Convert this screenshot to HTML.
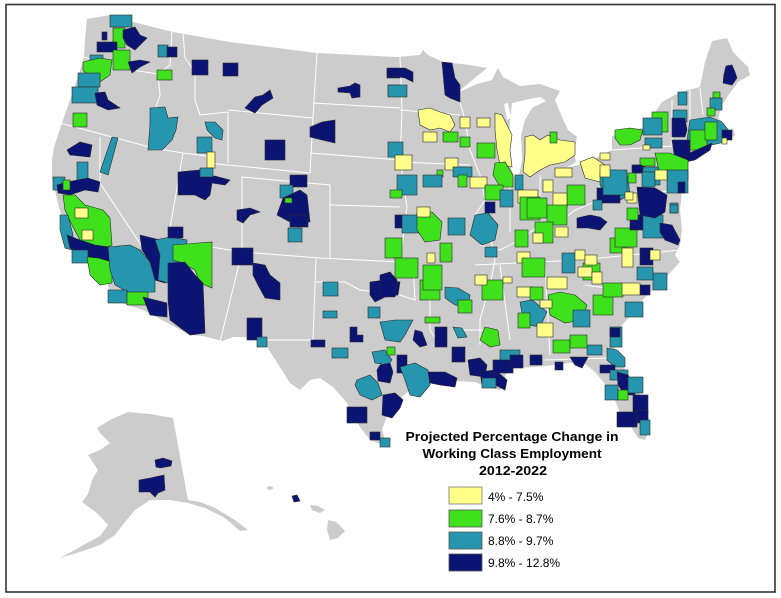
<!DOCTYPE html>
<html><head><meta charset="utf-8"><style>
html,body{margin:0;padding:0;background:#fff;}
svg{display:block;}
.y{fill:#ffff8a;stroke:#2a2a2a;stroke-width:.6}
.g{fill:#3ee11b;stroke:#2a2a2a;stroke-width:.6}
.t{fill:#2596ad;stroke:#2a2a2a;stroke-width:.6}
.n{fill:#0b1473;stroke:#2a2a2a;stroke-width:.6}
.s{fill:none;stroke:#fff;stroke-width:1}
</style></head><body>
<svg width="781" height="598" viewBox="0 0 781 598" xmlns="http://www.w3.org/2000/svg">
<rect x="0" y="0" width="781" height="598" fill="#fff"/>
<rect x="6" y="4.5" width="769" height="587.5" fill="#fff" stroke="#333" stroke-width="1.6"/>
<!-- contiguous US -->
<path fill="#cccccc" d="M87,19 L110,15 L133,22 L173,32 L230,42 L317,53 L397,57 L420,55 L423,50 L428,55 L443,62 L470,65 L487,68 L470,82 L457,93 L477,84 L492,80 L498,68 L503,77 L520,86 L540,84 L560,91 L555,100 L562,117 L568,130 L577,137 L574,152 L576,162 L566,168 L585,163 L600,156 L612,150 L612,136 L630,131 L645,127 L652,117 L662,102 L680,92 L700,87 L705,62 L712,41 L727,38 L733,52 L748,67 L750,75 L738,82 L730,93 L722,105 L718,118 L725,125 L722,130 L730,131 L733,128 L735,135 L725,141 L712,142 L700,146 L690,151 L713,142 L708,150 L690,158 L688,165 L684,185 L678,180 L682,192 L680,210 L682,230 L680,245 L675,255 L680,262 L668,275 L660,285 L650,292 L640,303 L633,313 L622,325 L615,337 L615,350 L622,365 L632,380 L640,395 L648,413 L650,428 L645,440 L638,438 L630,425 L620,413 L615,400 L608,388 L600,378 L595,372 L585,364 L570,363 L555,365 L535,367 L515,368 L505,375 L507,385 L500,390 L490,388 L475,382 L455,381 L440,380 L425,383 L410,390 L398,400 L388,413 L382,430 L387,445 L378,443 L370,440 L360,427 L347,403 L333,387 L320,378 L310,380 L300,390 L290,383 L280,367 L267,347 L253,337 L233,337 L222,341 L203,336 L190,335 L143,310 L127,305 L112,300 L108,285 L100,270 L88,262 L75,255 L70,245 L66,232 L62,218 L57,200 L55,190 L52,178 L52,160 L54,147 L58,135 L62,123 L70,100 L78,77 L84,57 L85,40 Z"/>
<!-- Lake Michigan -->
<path fill="#fff" d="M512,103 L525,100 L540,97 L546,101 L532,108 L525,120 L521,135 L522,160 L519,176 L514,177 L510,165 L509,140 L510,120 Z"/>
<path fill="#fff" d="M504,104 L508,103 L511,118 L507,120 Z"/>
<!-- Alaska -->
<path fill="#cccccc" d="M128,412 L150,414 L173,418 L188,500 L200,502 L215,508 L235,520 L248,530 L240,531 L225,518 L205,508 L188,503 L170,500 L150,500 L135,510 L125,522 L115,535 L100,545 L80,552 L60,558 L78,548 L100,536 L108,525 L98,514 L82,502 L88,494 L92,480 L98,470 L88,455 L100,450 L110,443 L100,433 L97,428 L110,420 Z"/>
<!-- Hawaii -->
<ellipse cx="270" cy="488" rx="3" ry="2" fill="#cccccc"/>
<polygon fill="#cccccc" points="310,505 318,506 325,510 320,513 312,510"/>
<polygon fill="#cccccc" points="328,520 336,522 345,531 338,538 330,540 327,530"/>
<polygon class="n" points="292,496 297,495 300,501 294,502"/>
<!-- state lines -->
<g class="s">
<polyline points="84,57 100,62 120,68 158,74"/>
<polyline points="172,32 170,65 158,74 160,95 152,120 153,150"/>
<polyline points="183,33 185,58 195,72 195,100 200,115 228,112"/>
<polyline points="228,110 313,118"/>
<polyline points="228,112 228,163"/>
<polyline points="317,53 313,118 310,173"/>
<polyline points="313,103 400,108"/>
<polyline points="310,153 400,160"/>
<polyline points="207,163 310,173"/>
<polyline points="60,123 153,148 183,153 207,156 207,163"/>
<polyline points="183,153 168,240"/>
<polyline points="100,137 100,183 143,248"/>
<polyline points="143,250 168,240 242,252"/>
<polyline points="242,177 242,252 220,342"/>
<polyline points="242,177 330,185 330,258"/>
<polyline points="242,252 320,258 400,262"/>
<polyline points="330,205 400,207"/>
<polyline points="316,258 313,340 253,340"/>
<polyline points="316,282 345,282 360,290 400,295 415,300 413,262"/>
<polyline points="400,57 402,110 400,160 407,207 400,262"/>
<polyline points="458,95 465,120 470,150 480,175 485,200 475,215 490,235 495,260 490,285 480,320 480,345"/>
<polyline points="400,110 460,115"/>
<polyline points="400,162 470,165"/>
<polyline points="510,170 510,232"/>
<polyline points="540,175 540,215"/>
<polyline points="480,245 500,250 520,240 540,225 560,222 575,210 600,200"/>
<polyline points="475,265 580,260 680,250"/>
<polyline points="500,265 510,340"/>
<polyline points="545,265 550,355"/>
<polyline points="545,360 610,358"/>
<polyline points="585,285 620,290 650,292"/>
<polyline points="600,155 600,200 675,190"/>
<polyline points="612,150 672,146"/>
<polyline points="672,146 672,100"/>
<polyline points="690,90 690,125"/>
<polyline points="700,88 703,115"/>
<polyline points="430,265 430,330 440,345"/>
<polyline points="455,330 500,330"/>
</g>
<!-- West -->
<rect class="t" x="110" y="15" width="22" height="12"/>
<rect class="g" x="113" y="28" width="12" height="20"/>
<polygon class="n" points="123,30 135,27 140,35 147,38 140,45 135,50 127,45 123,38"/>
<rect class="n" x="97" y="42" width="20" height="10"/>
<rect class="n" x="102" y="32" width="5" height="8"/>
<rect class="g" x="113" y="50" width="17" height="20"/>
<polygon class="n" points="128,62 140,60 150,62 140,67 132,73"/>
<rect class="t" x="90" y="55" width="13" height="8"/>
<polygon class="g" points="83,62 100,58 112,60 110,75 100,82 90,78 83,70"/>
<rect class="t" x="78" y="73" width="22" height="14"/>
<rect class="t" x="72" y="87" width="26" height="16"/>
<polygon class="n" points="95,93 105,92 108,100 120,108 108,110 97,105"/>
<rect class="t" x="158" y="45" width="10" height="12"/>
<rect class="n" x="167" y="47" width="10" height="10"/>
<rect class="g" x="157" y="70" width="15" height="10"/>
<rect class="g" x="73" y="113" width="14" height="14"/>
<polygon class="n" points="67,150 80,142 92,145 90,157 70,155"/>
<polygon class="t" points="112,137 118,138 108,175 100,172"/>
<polygon class="t" points="150,108 165,107 168,118 178,117 176,130 172,140 162,150 148,150 150,125"/>
<rect class="n" x="192" y="60" width="16" height="15"/>
<rect class="n" x="223" y="63" width="15" height="13"/>
<polygon class="n" points="245,108 255,97 263,95 270,90 273,98 262,105 255,113"/>
<polygon class="t" points="205,122 215,122 223,130 222,140 215,138 207,130"/>
<rect class="t" x="197" y="137" width="15" height="16"/>
<rect class="y" x="207" y="152" width="8" height="16"/>
<rect class="n" x="265" y="140" width="20" height="20"/>
<polygon class="n" points="310,127 322,122 335,120 335,143 322,140 310,137"/>
<polygon class="n" points="338,88 350,86 355,83 360,85 360,97 352,98 350,93 338,92"/>
<rect class="n" x="387" y="70" width="13" height="8"/>
<rect class="t" x="388" y="85" width="12" height="10"/>
<polygon class="n" points="178,172 200,170 205,177 215,176 230,180 225,185 212,183 210,195 205,200 195,195 178,195"/>
<rect class="t" x="200" y="168" width="13" height="9"/>
<rect class="t" x="53" y="177" width="12" height="13"/>
<rect class="t" x="77" y="162" width="11" height="20"/>
<polygon class="n" points="57,185 67,182 88,178 100,182 98,192 85,190 70,195 58,193"/>
<rect class="g" x="63" y="180" width="7" height="10"/>
<polygon class="g" points="63,195 75,195 85,205 103,210 110,218 112,245 100,250 90,245 80,240 72,225 65,210"/>
<rect class="y" x="75" y="208" width="13" height="10"/>
<rect class="y" x="82" y="230" width="11" height="10"/>
<polygon class="t" points="60,215 68,215 73,235 72,250 65,248 60,230"/>
<polygon class="n" points="67,235 80,240 95,245 117,248 117,262 100,262 85,255 70,248"/>
<rect class="t" x="72" y="250" width="16" height="13"/>
<polygon class="g" points="87,257 98,258 112,262 112,283 100,285 90,275"/>
<polygon class="t" points="108,247 130,245 140,250 155,268 155,292 130,293 115,285 110,270"/>
<rect class="t" x="108" y="290" width="19" height="13"/>
<rect class="g" x="127" y="292" width="21" height="13"/>
<polygon class="n" points="140,235 160,240 167,248 165,283 155,280 150,262 142,250"/>
<polygon class="t" points="155,240 170,237 187,240 187,260 175,270 168,283 158,280 160,255"/>
<rect class="n" x="168" y="227" width="15" height="11"/>
<polygon class="g" points="173,245 212,242 212,288 200,283 195,270 180,262 173,260"/>
<polygon class="n" points="168,263 185,262 195,275 203,283 205,333 190,335 170,320 168,300"/>
<polygon class="n" points="143,297 155,300 167,303 167,317 150,315"/>
<rect class="n" x="232" y="248" width="21" height="17"/>
<polygon class="n" points="253,263 265,265 270,275 280,283 280,300 265,298 258,285 253,275"/>
<polygon class="n" points="237,210 250,208 260,212 250,215 243,223 237,220"/>
<rect class="n" x="290" y="175" width="17" height="12"/>
<rect class="t" x="280" y="185" width="13" height="13"/>
<polygon class="n" points="283,198 300,190 307,195 310,222 290,222 277,215"/>
<rect class="g" x="285" y="198" width="7" height="5"/>
<rect class="n" x="290" y="215" width="18" height="12"/>
<rect class="t" x="288" y="228" width="14" height="14"/>
<rect class="n" x="247" y="318" width="15" height="22"/>
<rect class="t" x="257" y="337" width="10" height="10"/>
<!-- TX / OK / South -->
<rect class="t" x="323" y="282" width="15" height="14"/>
<polygon class="n" points="370,282 385,280 400,282 398,295 385,297 375,302 370,295"/>
<rect class="t" x="323" y="311" width="14" height="7"/>
<polygon class="n" points="350,327 357,327 357,335 363,335 363,342 350,342"/>
<rect class="n" x="311" y="340" width="14" height="7"/>
<rect class="t" x="332" y="348" width="16" height="10"/>
<rect class="t" x="368" y="307" width="12" height="11"/>
<polygon class="t" points="380,322 395,320 413,320 405,335 400,342 385,340"/>
<polygon class="t" points="372,352 385,350 392,360 388,365 375,363"/>
<rect class="g" x="387" y="347" width="8" height="8"/>
<polygon class="n" points="380,365 390,363 393,372 390,383 378,381 377,370"/>
<polygon class="t" points="357,380 370,375 378,383 382,395 372,400 360,395 355,385"/>
<rect class="n" x="397" y="355" width="10" height="18"/>
<polygon class="t" points="400,367 415,363 428,370 430,385 420,397 410,395 405,380"/>
<polygon class="n" points="428,372 445,372 457,378 455,387 440,385 430,383"/>
<polygon class="n" points="383,395 395,393 403,400 400,408 392,418 382,415"/>
<rect class="n" x="347" y="407" width="20" height="16"/>
<rect class="n" x="370" y="432" width="10" height="8"/>
<rect class="t" x="380" y="438" width="10" height="9"/>
<polygon class="n" points="415,330 422,332 427,345 420,347 413,340"/>
<rect class="n" x="435" y="327" width="12" height="20"/>
<polygon class="t" points="453,327 462,328 467,337 458,338"/>
<rect class="n" x="452" y="347" width="13" height="15"/>
<polygon class="n" points="468,360 480,358 487,365 485,377 470,375"/>
<polygon class="n" points="480,372 495,370 507,380 505,390 495,385 482,385"/>
<rect class="t" x="482" y="378" width="14" height="10"/>
<rect class="t" x="500" y="350" width="20" height="13"/>
<rect class="n" x="493" y="360" width="20" height="13"/>
<rect class="n" x="510" y="355" width="13" height="13"/>
<rect class="n" x="530" y="355" width="12" height="10"/>
<rect class="n" x="555" y="362" width="8" height="8"/>
<polygon class="n" points="570,357 588,357 582,368 575,365"/>
<rect class="t" x="587" y="345" width="15" height="10"/>
<polygon class="t" points="607,348 617,350 625,358 625,367 615,367 607,360"/>
<rect class="n" x="600" y="365" width="15" height="8"/>
<rect class="t" x="610" y="370" width="18" height="10"/>
<polygon class="n" points="617,372 628,375 635,390 635,395 625,395 618,385"/>
<rect class="t" x="605" y="385" width="13" height="15"/>
<rect class="g" x="618" y="390" width="10" height="10"/>
<rect class="t" x="628" y="377" width="15" height="16"/>
<rect class="n" x="633" y="395" width="15" height="18"/>
<rect class="n" x="617" y="412" width="20" height="15"/>
<rect class="n" x="637" y="410" width="11" height="13"/>
<rect class="t" x="640" y="420" width="10" height="15"/>
<rect class="t" x="610" y="327" width="12" height="20"/>
<rect class="n" x="610" y="328" width="10" height="9"/>
<rect class="t" x="625" y="302" width="18" height="15"/>
<rect class="n" x="640" y="285" width="10" height="10"/>
<polygon class="g" points="485,327 498,330 500,345 490,347 480,340"/>
<rect class="g" x="425" y="317" width="15" height="6"/>
<polygon class="t" points="445,287 458,288 470,295 468,307 455,305 445,298"/>
<rect class="g" x="458" y="300" width="14" height="13"/>
<rect class="g" x="420" y="280" width="20" height="20"/>
<rect class="g" x="482" y="280" width="21" height="20"/>
<rect class="y" x="475" y="275" width="12" height="10"/>
<rect class="y" x="503" y="277" width="9" height="6"/>
<rect class="y" x="517" y="287" width="16" height="10"/>
<rect class="g" x="530" y="287" width="13" height="13"/>
<polygon class="t" points="520,302 532,300 547,312 540,327 528,325 522,313"/>
<rect class="g" x="518" y="313" width="12" height="15"/>
<rect class="y" x="537" y="323" width="16" height="14"/>
<polygon class="g" points="548,295 560,292 575,295 587,305 582,320 565,323 550,315"/>
<rect class="y" x="547" y="277" width="20" height="12"/>
<rect class="y" x="540" y="300" width="12" height="8"/>
<rect class="g" x="553" y="340" width="17" height="13"/>
<rect class="g" x="570" y="335" width="17" height="13"/>
<rect class="t" x="573" y="310" width="17" height="17"/>
<rect class="g" x="593" y="295" width="20" height="20"/>
<rect class="g" x="603" y="283" width="20" height="14"/>
<rect class="y" x="622" y="283" width="18" height="12"/>
<!-- Midwest -->
<polygon class="n" points="387,68 405,68 413,72 413,82 405,78 387,75"/>
<rect class="t" x="388" y="85" width="19" height="12"/>
<polygon class="n" points="442,62 452,63 455,78 460,85 460,102 450,98 445,95"/>
<polygon class="y" points="418,110 430,108 440,112 450,115 455,125 450,132 440,128 430,130 420,125"/>
<rect class="y" x="423" y="132" width="14" height="10"/>
<rect class="y" x="460" y="117" width="10" height="11"/>
<rect class="y" x="477" y="118" width="13" height="9"/>
<rect class="g" x="443" y="132" width="15" height="10"/>
<rect class="g" x="460" y="137" width="10" height="10"/>
<polygon class="y" points="495,113 502,115 507,125 512,135 510,150 512,167 500,165 497,150 495,130"/>
<rect class="t" x="388" y="142" width="15" height="15"/>
<rect class="y" x="395" y="155" width="17" height="15"/>
<rect class="g" x="477" y="143" width="18" height="15"/>
<rect class="y" x="445" y="158" width="13" height="12"/>
<rect class="g" x="437" y="170" width="6" height="7"/>
<rect class="t" x="453" y="167" width="19" height="10"/>
<rect class="g" x="458" y="175" width="9" height="12"/>
<rect class="t" x="397" y="175" width="20" height="20"/>
<rect class="t" x="423" y="175" width="19" height="12"/>
<rect class="g" x="390" y="190" width="12" height="8"/>
<rect class="y" x="470" y="177" width="17" height="11"/>
<polygon class="g" points="495,163 505,162 513,175 513,187 500,187 493,175"/>
<rect class="g" x="485" y="185" width="18" height="15"/>
<rect class="t" x="515" y="175" width="8" height="15"/>
<polygon class="y" points="525,137 533,135 540,140 548,135 560,140 575,142 575,155 565,162 550,165 540,170 530,177 523,172 525,155"/>
<rect class="g" x="550" y="132" width="7" height="11"/>
<rect class="y" x="543" y="180" width="10" height="12"/>
<rect class="y" x="555" y="168" width="17" height="9"/>
<polygon class="y" points="580,162 593,157 605,165 610,172 600,182 585,178"/>
<polygon class="t" points="600,172 615,170 628,177 630,195 620,200 605,195 600,185"/>
<rect class="n" x="597" y="188" width="23" height="15"/>
<rect class="n" x="633" y="165" width="12" height="8"/>
<rect class="t" x="643" y="167" width="17" height="18"/>
<rect class="g" x="567" y="185" width="18" height="20"/>
<rect class="y" x="518" y="190" width="20" height="13"/>
<rect class="y" x="553" y="193" width="14" height="14"/>
<rect class="g" x="520" y="197" width="20" height="23"/>
<rect class="t" x="500" y="190" width="13" height="17"/>
<rect class="n" x="485" y="202" width="10" height="11"/>
<rect class="g" x="527" y="198" width="20" height="20"/>
<rect class="g" x="547" y="205" width="20" height="20"/>
<polygon class="t" points="475,215 488,213 498,225 495,240 482,245 470,235"/>
<rect class="t" x="448" y="218" width="17" height="17"/>
<rect class="n" x="395" y="215" width="13" height="13"/>
<rect class="t" x="402" y="215" width="21" height="18"/>
<polygon class="g" points="417,212 432,212 442,222 440,240 425,242 417,230"/>
<rect class="y" x="417" y="207" width="13" height="10"/>
<rect class="g" x="385" y="238" width="17" height="20"/>
<rect class="g" x="395" y="258" width="23" height="20"/>
<rect class="g" x="423" y="265" width="19" height="25"/>
<rect class="y" x="427" y="253" width="8" height="10"/>
<rect class="g" x="440" y="243" width="12" height="19"/>
<polygon class="n" points="380,275 390,272 397,280 395,297 383,297 380,290"/>
<rect class="t" x="485" y="247" width="12" height="10"/>
<rect class="g" x="515" y="230" width="13" height="17"/>
<rect class="g" x="535" y="222" width="18" height="21"/>
<rect class="y" x="533" y="233" width="10" height="10"/>
<rect class="y" x="555" y="227" width="13" height="10"/>
<rect class="t" x="562" y="253" width="13" height="20"/>
<rect class="g" x="583" y="263" width="17" height="17"/>
<rect class="y" x="517" y="252" width="13" height="11"/>
<rect class="g" x="522" y="258" width="23" height="19"/>
<rect class="y" x="575" y="250" width="10" height="10"/>
<rect class="y" x="585" y="255" width="12" height="10"/>
<rect class="y" x="578" y="267" width="14" height="10"/>
<rect class="y" x="592" y="272" width="10" height="12"/>
<rect class="g" x="610" y="238" width="17" height="15"/>
<polygon class="n" points="577,218 590,215 600,217 607,222 600,230 588,228 577,228"/>
<rect class="t" x="593" y="200" width="9" height="10"/>
<rect class="g" x="615" y="228" width="22" height="19"/>
<rect class="n" x="630" y="215" width="13" height="15"/>
<rect class="t" x="643" y="215" width="20" height="23"/>
<polygon class="n" points="660,223 672,225 680,240 678,245 665,240 660,232"/>
<polygon class="n" points="637,187 655,188 667,195 665,212 655,218 640,215"/>
<rect class="t" x="670" y="203" width="8" height="10"/>
<rect class="g" x="627" y="208" width="11" height="12"/>
<rect class="y" x="627" y="193" width="10" height="10"/>
<rect class="t" x="642" y="172" width="13" height="15"/>
<rect class="y" x="622" y="248" width="11" height="19"/>
<rect class="n" x="640" y="248" width="13" height="17"/>
<rect class="y" x="650" y="250" width="10" height="10"/>
<rect class="t" x="653" y="273" width="14" height="17"/>
<rect class="t" x="637" y="267" width="16" height="13"/>
<!-- Northeast -->
<polygon class="n" points="726,66 732,65 735,72 737,78 732,85 723,83 724,74"/>
<rect class="t" x="678" y="92" width="9" height="13"/>
<rect class="g" x="713" y="92" width="7" height="6"/>
<rect class="t" x="710" y="98" width="12" height="12"/>
<rect class="g" x="707" y="108" width="8" height="8"/>
<rect class="t" x="673" y="110" width="14" height="12"/>
<polygon class="n" points="672,118 685,118 687,130 685,137 672,137"/>
<rect class="g" x="652" y="112" width="16" height="20"/>
<rect class="t" x="643" y="118" width="19" height="17"/>
<polygon class="g" points="615,130 630,128 643,130 640,140 630,145 620,145 615,138"/>
<rect class="t" x="645" y="138" width="17" height="10"/>
<rect class="y" x="643" y="145" width="7" height="5"/>
<polygon class="t" points="690,120 710,117 722,122 730,132 725,142 712,145 695,150 687,140"/>
<rect class="g" x="690" y="130" width="17" height="20"/>
<rect class="g" x="705" y="122" width="12" height="18"/>
<rect class="n" x="722" y="130" width="10" height="10"/>
<rect class="y" x="722" y="138" width="5" height="6"/>
<polygon class="n" points="672,140 690,140 690,155 682,163 675,160"/>
<polygon class="n" points="685,155 712,143 710,150 695,160 685,162"/>
<polygon class="g" points="655,153 670,153 688,160 688,180 675,182 660,175"/>
<rect class="g" x="640" y="158" width="15" height="8"/>
<rect class="t" x="667" y="170" width="21" height="23"/>
<rect class="n" x="678" y="182" width="7" height="11"/>
<rect class="y" x="655" y="170" width="12" height="10"/>
<rect class="t" x="603" y="170" width="24" height="25"/>
<rect class="n" x="632" y="165" width="10" height="8"/>
<rect class="y" x="600" y="153" width="10" height="7"/>
<rect class="y" x="600" y="165" width="10" height="12"/>
<rect class="g" x="628" y="173" width="8" height="10"/>
<rect class="y" x="625" y="192" width="8" height="8"/>
<rect class="t" x="670" y="205" width="8" height="8"/>
<!-- Alaska blobs -->
<polygon class="n" points="155,460 163,458 172,461 171,466 160,468 156,467"/>
<polygon class="n" points="139,480 150,478 164,475 165,490 158,493 155,497 150,492 139,492"/>
<!-- Legend -->
<g font-family="'Liberation Sans', Arial, sans-serif" font-weight="bold" font-size="12.5" fill="#000" text-anchor="middle">
<text x="512" y="441" textLength="213" lengthAdjust="spacingAndGlyphs">Projected Percentage Change in</text>
<text x="512" y="458" textLength="179" lengthAdjust="spacingAndGlyphs">Working Class Employment</text>
<text x="513" y="475" textLength="68" lengthAdjust="spacingAndGlyphs">2012-2022</text>
</g>
<rect x="449" y="487" width="33" height="17" fill="#ffff8a" stroke="#777" stroke-width=".8"/>
<rect x="449" y="510" width="33" height="17" fill="#3ee11b" stroke="#555" stroke-width=".8"/>
<rect x="449" y="532" width="33" height="17" fill="#2596ad" stroke="#555" stroke-width=".8"/>
<rect x="449" y="554" width="33" height="17" fill="#0b1473" stroke="#555" stroke-width=".8"/>
<g font-family="'Liberation Sans', Arial, sans-serif" font-size="12" fill="#000">
<text x="488" y="501">4% - 7.5%</text>
<text x="488" y="523">7.6% - 8.7%</text>
<text x="488" y="545">8.8% - 9.7%</text>
<text x="488" y="567">9.8% - 12.8%</text>
</g>
</svg>
</body></html>
